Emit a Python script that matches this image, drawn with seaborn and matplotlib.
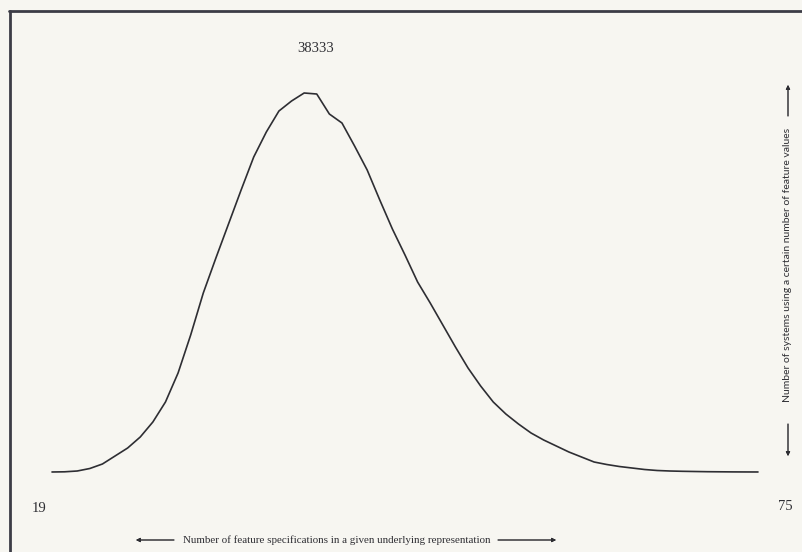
import matplotlib
matplotlib.use("Agg")
import matplotlib.pyplot as plt
from matplotlib.lines import Line2D
import seaborn as sns
import pandas as pd

# Number of feature specifications per underlying representation
feature_counts = list(range(19, 76))
# Number of systems using each count
system_counts = [
    1, 20, 101, 354, 809, 1618, 2427, 3540, 5057, 7080,
    10013, 13856, 18104, 21644, 25083, 28521, 31859, 34388, 36512, 37523,
    38333, 38231, 36208, 35298, 32972, 30544, 27510, 24577, 21947, 19216,
    17093, 14868, 12643, 10519, 8698, 7080, 5866, 4855, 3944, 3236,
    2630, 2023, 1517, 1011, 759, 556, 405, 253, 152, 101,
    71, 50, 30, 20, 10, 5, 2,
]
x_label = "Number of feature specifications in a given underlying representation"
y_label = "Number of systems using a certain number of feature values"

df = pd.DataFrame({"features": feature_counts, "systems": system_counts})
peak = max(system_counts)
peak_x = feature_counts[system_counts.index(peak)]

sns.set_style("white")
paper = "#f7f6f1"
ink = "#2e2e33"
serif = ["Liberation Serif", "DejaVu Serif"]
sans = ["Lato", "DejaVu Sans"]

W, H = 802, 552
fig = plt.figure(figsize=(W / 100, H / 100), dpi=100)
fig.patch.set_facecolor(paper)


def fx(px):
    return px / W


def fy(py):
    return 1 - py / H


ax = fig.add_axes([fx(52), fy(472), fx(758) - fx(52), fy(93) - fy(472)])
ax.set_facecolor("none")
ax.set_xlim(feature_counts[0], feature_counts[-1])
ax.set_ylim(0, peak)
ax.axis("off")

sns.lineplot(data=df, x="features", y="systems", ax=ax, color=ink,
             linewidth=1.2, clip_on=False)

# peak value and range ends
ax.annotate(f"{peak}", xy=(peak_x, peak), xytext=(11, 45),
            textcoords="offset pixels", ha="center", va="center",
            fontsize=10.5, family=serif, color=ink)
ax.annotate(f"{feature_counts[0]}", xy=(feature_counts[0], 0), xytext=(-13, -37),
            textcoords="offset pixels", ha="center", va="center",
            fontsize=10.5, family=serif, color=ink)
ax.annotate(f"{feature_counts[-1]}", xy=(feature_counts[-1], 0), xytext=(27, -35),
            textcoords="offset pixels", ha="center", va="center",
            fontsize=10.5, family=serif, color=ink)

# page frame: left and top rules
fig.add_artist(Line2D([fx(10), fx(10)], [fy(11), 0], color="#3c3c46",
                      lw=2.0, transform=fig.transFigure))
fig.add_artist(Line2D([fx(9), 1], [fy(11), fy(11)], color="#3c3c46",
                      lw=2.0, transform=fig.transFigure))

# horizontal caption with arrows
fig.text(fx(337), fy(540), x_label, ha="center", va="center",
         fontsize=7.9, family=serif, color=ink)
arrow = dict(arrowstyle="-|>", lw=0.7, color=ink, mutation_scale=6,
             shrinkA=0, shrinkB=0)
fig.add_artist(plt.annotate("", xy=(136, H - 540), xytext=(174, H - 540),
                            xycoords="figure pixels", arrowprops=arrow))
fig.add_artist(plt.annotate("", xy=(556, H - 540), xytext=(498, H - 540),
                            xycoords="figure pixels", arrowprops=arrow))

# vertical caption with arrows
fig.text(fx(788), fy(265), y_label, ha="center", va="center", rotation=90,
         fontsize=7.5, family=sans, color=ink)
fig.add_artist(plt.annotate("", xy=(788, H - 85), xytext=(788, H - 116),
                            xycoords="figure pixels", arrowprops=arrow))
fig.add_artist(plt.annotate("", xy=(788, H - 456), xytext=(788, H - 424),
                            xycoords="figure pixels", arrowprops=arrow))

fig.savefig("out.png", dpi=100, facecolor=paper)
